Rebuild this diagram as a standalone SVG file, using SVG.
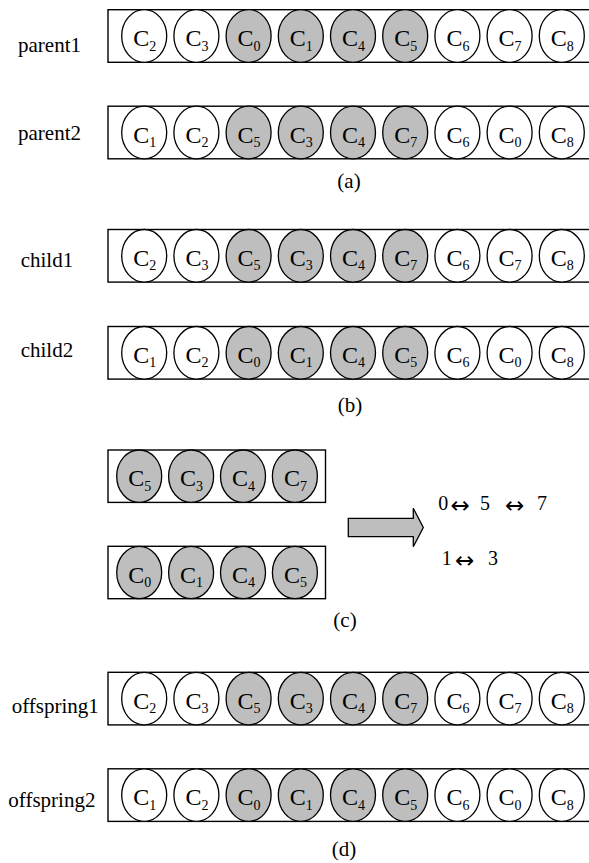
<svg xmlns="http://www.w3.org/2000/svg" width="589" height="863" viewBox="0 0 589 863">
  <defs>
    <style>
      .bg { fill: #ffffff; }
      .box { fill: #ffffff; stroke: #000000; stroke-width: 1.4; }
      .cell { fill: #ffffff; stroke: #000000; stroke-width: 1.3; }
      .sel .cell { fill: #bebebe; }
      .lbl { font-family: "Liberation Serif", "Times New Roman", serif; font-size: 21px; fill: #000000; }
      .c { font-family: "Liberation Serif", "Times New Roman", serif; font-size: 24px; fill: #000000; }
      .s { font-size: 14px; }
      .cap { font-family: "Liberation Serif", "Times New Roman", serif; font-size: 21px; fill: #000000; text-anchor: middle; }
      .swap { font-family: "Liberation Serif", "Times New Roman", serif; font-size: 20px; fill: #000000; }
      .dbl { font-family: "DejaVu Sans", sans-serif; font-size: 23px; }
      .big { fill: #bebebe; stroke: #000000; stroke-width: 1.3; stroke-linejoin: miter; }
    </style>
    <!-- one chromosome cell outline -->
    <ellipse id="oval" class="cell" cx="0" cy="0" rx="22.5" ry="26.3"/>
  </defs>

  <rect class="bg" x="0" y="0" width="589" height="863"/>

  <!-- (a) parents -->
  <g id="parent1">
    <text class="lbl" x="18" y="52">parent1</text>
    <rect class="box" x="108" y="9.7" width="486" height="52.6"/>
    <g transform="translate(144.2,36)"><use href="#oval"/><text class="c" x="-11" y="10">C<tspan class="s" dy="4.5">2</tspan></text></g>
    <g transform="translate(196.4,36)"><use href="#oval"/><text class="c" x="-11" y="10">C<tspan class="s" dy="4.5">3</tspan></text></g>
    <g class="sel" transform="translate(248.6,36)"><ellipse class="cell" rx="22.5" ry="26.3"/><text class="c" x="-11" y="10">C<tspan class="s" dy="4.5">0</tspan></text></g>
    <g class="sel" transform="translate(300.8,36)"><ellipse class="cell" rx="22.5" ry="26.3"/><text class="c" x="-11" y="10">C<tspan class="s" dy="4.5">1</tspan></text></g>
    <g class="sel" transform="translate(353,36)"><ellipse class="cell" rx="22.5" ry="26.3"/><text class="c" x="-11" y="10">C<tspan class="s" dy="4.5">4</tspan></text></g>
    <g class="sel" transform="translate(405.2,36)"><ellipse class="cell" rx="22.5" ry="26.3"/><text class="c" x="-11" y="10">C<tspan class="s" dy="4.5">5</tspan></text></g>
    <g transform="translate(457.4,36)"><use href="#oval"/><text class="c" x="-11" y="10">C<tspan class="s" dy="4.5">6</tspan></text></g>
    <g transform="translate(509.6,36)"><use href="#oval"/><text class="c" x="-11" y="10">C<tspan class="s" dy="4.5">7</tspan></text></g>
    <g transform="translate(561.8,36)"><use href="#oval"/><text class="c" x="-11" y="10">C<tspan class="s" dy="4.5">8</tspan></text></g>
  </g>

  <g id="parent2">
    <text class="lbl" x="18" y="140">parent2</text>
    <rect class="box" x="108" y="106.2" width="486" height="52.6"/>
    <g transform="translate(144.2,132.5)"><use href="#oval"/><text class="c" x="-11" y="10">C<tspan class="s" dy="4.5">1</tspan></text></g>
    <g transform="translate(196.4,132.5)"><use href="#oval"/><text class="c" x="-11" y="10">C<tspan class="s" dy="4.5">2</tspan></text></g>
    <g class="sel" transform="translate(248.6,132.5)"><ellipse class="cell" rx="22.5" ry="26.3"/><text class="c" x="-11" y="10">C<tspan class="s" dy="4.5">5</tspan></text></g>
    <g class="sel" transform="translate(300.8,132.5)"><ellipse class="cell" rx="22.5" ry="26.3"/><text class="c" x="-11" y="10">C<tspan class="s" dy="4.5">3</tspan></text></g>
    <g class="sel" transform="translate(353,132.5)"><ellipse class="cell" rx="22.5" ry="26.3"/><text class="c" x="-11" y="10">C<tspan class="s" dy="4.5">4</tspan></text></g>
    <g class="sel" transform="translate(405.2,132.5)"><ellipse class="cell" rx="22.5" ry="26.3"/><text class="c" x="-11" y="10">C<tspan class="s" dy="4.5">7</tspan></text></g>
    <g transform="translate(457.4,132.5)"><use href="#oval"/><text class="c" x="-11" y="10">C<tspan class="s" dy="4.5">6</tspan></text></g>
    <g transform="translate(509.6,132.5)"><use href="#oval"/><text class="c" x="-11" y="10">C<tspan class="s" dy="4.5">0</tspan></text></g>
    <g transform="translate(561.8,132.5)"><use href="#oval"/><text class="c" x="-11" y="10">C<tspan class="s" dy="4.5">8</tspan></text></g>
  </g>
  <text id="cap-a" class="cap" x="349" y="188">(a)</text>

  <!-- (b) children after exchanging the middle segment -->
  <g id="child1">
    <text class="lbl" x="20.7" y="266.7">child1</text>
    <rect class="box" x="108" y="229.5" width="486" height="52.6"/>
    <g transform="translate(144.2,255.8)"><use href="#oval"/><text class="c" x="-11" y="10">C<tspan class="s" dy="4.5">2</tspan></text></g>
    <g transform="translate(196.4,255.8)"><use href="#oval"/><text class="c" x="-11" y="10">C<tspan class="s" dy="4.5">3</tspan></text></g>
    <g class="sel" transform="translate(248.6,255.8)"><ellipse class="cell" rx="22.5" ry="26.3"/><text class="c" x="-11" y="10">C<tspan class="s" dy="4.5">5</tspan></text></g>
    <g class="sel" transform="translate(300.8,255.8)"><ellipse class="cell" rx="22.5" ry="26.3"/><text class="c" x="-11" y="10">C<tspan class="s" dy="4.5">3</tspan></text></g>
    <g class="sel" transform="translate(353,255.8)"><ellipse class="cell" rx="22.5" ry="26.3"/><text class="c" x="-11" y="10">C<tspan class="s" dy="4.5">4</tspan></text></g>
    <g class="sel" transform="translate(405.2,255.8)"><ellipse class="cell" rx="22.5" ry="26.3"/><text class="c" x="-11" y="10">C<tspan class="s" dy="4.5">7</tspan></text></g>
    <g transform="translate(457.4,255.8)"><use href="#oval"/><text class="c" x="-11" y="10">C<tspan class="s" dy="4.5">6</tspan></text></g>
    <g transform="translate(509.6,255.8)"><use href="#oval"/><text class="c" x="-11" y="10">C<tspan class="s" dy="4.5">7</tspan></text></g>
    <g transform="translate(561.8,255.8)"><use href="#oval"/><text class="c" x="-11" y="10">C<tspan class="s" dy="4.5">8</tspan></text></g>
  </g>

  <g id="child2">
    <text class="lbl" x="20.7" y="357">child2</text>
    <rect class="box" x="108" y="326.5" width="486" height="52.6"/>
    <g transform="translate(144.2,352.8)"><use href="#oval"/><text class="c" x="-11" y="10">C<tspan class="s" dy="4.5">1</tspan></text></g>
    <g transform="translate(196.4,352.8)"><use href="#oval"/><text class="c" x="-11" y="10">C<tspan class="s" dy="4.5">2</tspan></text></g>
    <g class="sel" transform="translate(248.6,352.8)"><ellipse class="cell" rx="22.5" ry="26.3"/><text class="c" x="-11" y="10">C<tspan class="s" dy="4.5">0</tspan></text></g>
    <g class="sel" transform="translate(300.8,352.8)"><ellipse class="cell" rx="22.5" ry="26.3"/><text class="c" x="-11" y="10">C<tspan class="s" dy="4.5">1</tspan></text></g>
    <g class="sel" transform="translate(353,352.8)"><ellipse class="cell" rx="22.5" ry="26.3"/><text class="c" x="-11" y="10">C<tspan class="s" dy="4.5">4</tspan></text></g>
    <g class="sel" transform="translate(405.2,352.8)"><ellipse class="cell" rx="22.5" ry="26.3"/><text class="c" x="-11" y="10">C<tspan class="s" dy="4.5">5</tspan></text></g>
    <g transform="translate(457.4,352.8)"><use href="#oval"/><text class="c" x="-11" y="10">C<tspan class="s" dy="4.5">6</tspan></text></g>
    <g transform="translate(509.6,352.8)"><use href="#oval"/><text class="c" x="-11" y="10">C<tspan class="s" dy="4.5">0</tspan></text></g>
    <g transform="translate(561.8,352.8)"><use href="#oval"/><text class="c" x="-11" y="10">C<tspan class="s" dy="4.5">8</tspan></text></g>
  </g>
  <text id="cap-b" class="cap" x="350" y="411.5">(b)</text>

  <!-- (c) exchanged segments and the resulting mapping -->
  <g id="segment1">
    <rect class="box" x="108" y="450" width="217.5" height="52.4"/>
    <g class="sel" transform="translate(139.2,476.2)"><ellipse class="cell" rx="22.5" ry="26.2"/><text class="c" x="-11" y="10">C<tspan class="s" dy="4.5">5</tspan></text></g>
    <g class="sel" transform="translate(191.1,476.2)"><ellipse class="cell" rx="22.5" ry="26.2"/><text class="c" x="-11" y="10">C<tspan class="s" dy="4.5">3</tspan></text></g>
    <g class="sel" transform="translate(243,476.2)"><ellipse class="cell" rx="22.5" ry="26.2"/><text class="c" x="-11" y="10">C<tspan class="s" dy="4.5">4</tspan></text></g>
    <g class="sel" transform="translate(294.9,476.2)"><ellipse class="cell" rx="22.5" ry="26.2"/><text class="c" x="-11" y="10">C<tspan class="s" dy="4.5">7</tspan></text></g>
  </g>

  <g id="segment2">
    <rect class="box" x="108" y="546.3" width="217.5" height="52.4"/>
    <g class="sel" transform="translate(139.2,572.5)"><ellipse class="cell" rx="22.5" ry="26.2"/><text class="c" x="-11" y="10">C<tspan class="s" dy="4.5">0</tspan></text></g>
    <g class="sel" transform="translate(191.1,572.5)"><ellipse class="cell" rx="22.5" ry="26.2"/><text class="c" x="-11" y="10">C<tspan class="s" dy="4.5">1</tspan></text></g>
    <g class="sel" transform="translate(243,572.5)"><ellipse class="cell" rx="22.5" ry="26.2"/><text class="c" x="-11" y="10">C<tspan class="s" dy="4.5">4</tspan></text></g>
    <g class="sel" transform="translate(294.9,572.5)"><ellipse class="cell" rx="22.5" ry="26.2"/><text class="c" x="-11" y="10">C<tspan class="s" dy="4.5">5</tspan></text></g>
  </g>

  <g id="connectors">
    <polygon class="big" points="348.3,518.3 413.3,518.3 413.3,508.3 423.3,527.5 413.3,546.7 413.3,536.7 348.3,536.7"/>
  </g>

  <g id="mapping">
    <text class="swap"><tspan x="438.3" y="510">0</tspan><tspan class="dbl" x="450.5" y="512.5">↔</tspan><tspan x="480" y="510">5</tspan><tspan class="dbl" x="505" y="512.5">↔</tspan><tspan x="537" y="510">7</tspan></text>
    <text class="swap"><tspan x="441.7" y="565">1</tspan><tspan class="dbl" x="455" y="567.5">↔</tspan><tspan x="488" y="565">3</tspan></text>
  </g>
  <text id="cap-c" class="cap" x="345" y="627">(c)</text>

  <!-- (d) offspring after repairing duplicates -->
  <g id="offspring1">
    <text class="lbl" x="11.7" y="713">offspring1</text>
    <rect class="box" x="108" y="672.3" width="486" height="52.6"/>
    <g transform="translate(144.2,698.6)"><use href="#oval"/><text class="c" x="-11" y="10">C<tspan class="s" dy="4.5">2</tspan></text></g>
    <g transform="translate(196.4,698.6)"><use href="#oval"/><text class="c" x="-11" y="10">C<tspan class="s" dy="4.5">3</tspan></text></g>
    <g class="sel" transform="translate(248.6,698.6)"><ellipse class="cell" rx="22.5" ry="26.3"/><text class="c" x="-11" y="10">C<tspan class="s" dy="4.5">5</tspan></text></g>
    <g class="sel" transform="translate(300.8,698.6)"><ellipse class="cell" rx="22.5" ry="26.3"/><text class="c" x="-11" y="10">C<tspan class="s" dy="4.5">3</tspan></text></g>
    <g class="sel" transform="translate(353,698.6)"><ellipse class="cell" rx="22.5" ry="26.3"/><text class="c" x="-11" y="10">C<tspan class="s" dy="4.5">4</tspan></text></g>
    <g class="sel" transform="translate(405.2,698.6)"><ellipse class="cell" rx="22.5" ry="26.3"/><text class="c" x="-11" y="10">C<tspan class="s" dy="4.5">7</tspan></text></g>
    <g transform="translate(457.4,698.6)"><use href="#oval"/><text class="c" x="-11" y="10">C<tspan class="s" dy="4.5">6</tspan></text></g>
    <g transform="translate(509.6,698.6)"><use href="#oval"/><text class="c" x="-11" y="10">C<tspan class="s" dy="4.5">7</tspan></text></g>
    <g transform="translate(561.8,698.6)"><use href="#oval"/><text class="c" x="-11" y="10">C<tspan class="s" dy="4.5">8</tspan></text></g>
  </g>

  <g id="offspring2">
    <text class="lbl" x="8.3" y="807">offspring2</text>
    <rect class="box" x="108" y="768.8" width="486" height="52.6"/>
    <g transform="translate(144.2,795.1)"><use href="#oval"/><text class="c" x="-11" y="10">C<tspan class="s" dy="4.5">1</tspan></text></g>
    <g transform="translate(196.4,795.1)"><use href="#oval"/><text class="c" x="-11" y="10">C<tspan class="s" dy="4.5">2</tspan></text></g>
    <g class="sel" transform="translate(248.6,795.1)"><ellipse class="cell" rx="22.5" ry="26.3"/><text class="c" x="-11" y="10">C<tspan class="s" dy="4.5">0</tspan></text></g>
    <g class="sel" transform="translate(300.8,795.1)"><ellipse class="cell" rx="22.5" ry="26.3"/><text class="c" x="-11" y="10">C<tspan class="s" dy="4.5">1</tspan></text></g>
    <g class="sel" transform="translate(353,795.1)"><ellipse class="cell" rx="22.5" ry="26.3"/><text class="c" x="-11" y="10">C<tspan class="s" dy="4.5">4</tspan></text></g>
    <g class="sel" transform="translate(405.2,795.1)"><ellipse class="cell" rx="22.5" ry="26.3"/><text class="c" x="-11" y="10">C<tspan class="s" dy="4.5">5</tspan></text></g>
    <g transform="translate(457.4,795.1)"><use href="#oval"/><text class="c" x="-11" y="10">C<tspan class="s" dy="4.5">6</tspan></text></g>
    <g transform="translate(509.6,795.1)"><use href="#oval"/><text class="c" x="-11" y="10">C<tspan class="s" dy="4.5">0</tspan></text></g>
    <g transform="translate(561.8,795.1)"><use href="#oval"/><text class="c" x="-11" y="10">C<tspan class="s" dy="4.5">8</tspan></text></g>
  </g>
  <text id="cap-d" class="cap" x="344" y="856">(d)</text>
</svg>
